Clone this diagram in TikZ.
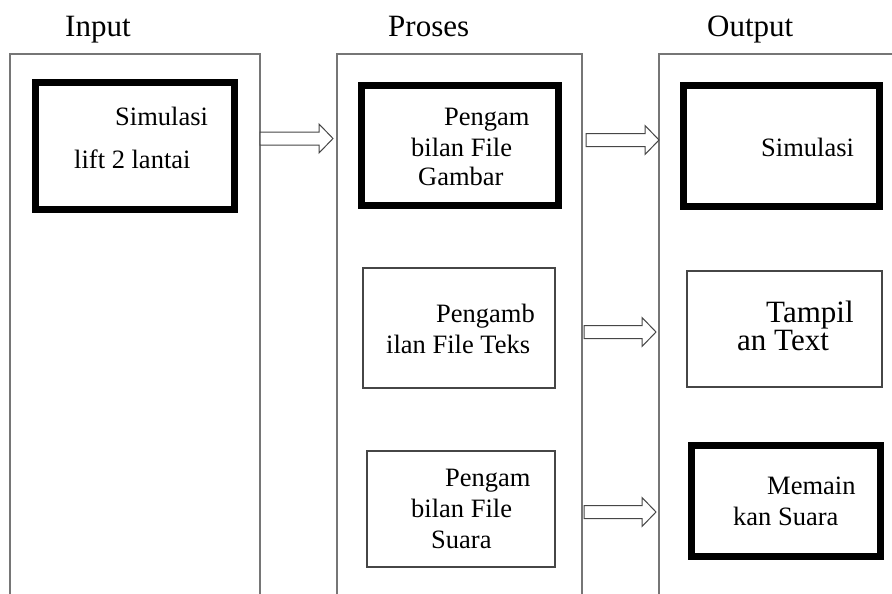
\documentclass[tikz,border=0pt]{standalone}
\usepackage{fontspec}
\setmainfont{Liberation Serif}
\usepackage{tikz}
\usetikzlibrary{calc}
\definecolor{colgray}{RGB}{118,118,118}
\definecolor{boxgray}{RGB}{70,70,70}
\tikzset{
  column/.style={draw=colgray, line width=1.4pt},
  thickbox/.style={draw=black, line width=7pt, inner sep=0pt},
  thinbox/.style={draw=boxgray, line width=1.3pt, inner sep=0pt},
  arrowline/.style={draw=boxgray, line width=1pt, fill=white, line join=miter},
  boxtext/.style={font=\fontsize{26.5}{31}\selectfont, align=left, inner sep=0pt, anchor=base west},
  heading/.style={font=\fontsize{31}{36}\selectfont, inner sep=0pt, anchor=base west}
}
\newcommand{\blockarrow}[2]{\draw[arrowline] let \p1 = (#1), \p2 = (#2) in (\x1,\y1+6.5pt) -- (\x2-14pt,\y1+6.5pt) -- (\x2-14pt,\y1+14.5pt) -- (\x2,\y1) -- (\x2-14pt,\y1-14.5pt) -- (\x2-14pt,\y1-6.5pt) -- (\x1,\y1-6.5pt) -- cycle}

\begin{document}
\begin{tikzpicture}[x=1pt, y=-1pt]
\useasboundingbox (0,0) rectangle (892,594);

% columns
\draw[column] (10,594) |- (260,54) -- (260,594);
\draw[column] (337,594) |- (582,54) -- (582,594);
\draw[column] (659,594) |- (892,54);

\node[heading] (tin) at (65,37) {Input};
\node[heading] (tpro) at (388,37) {Proses};
\node[heading] (tout) at (707,37) {Output};

% input
\node[thickbox, minimum width=199pt, minimum height=127pt] (in1) at (135,146) {};
\node[boxtext] (in1t) at (74,168) {\hspace*{41pt}Simulasi\\[12pt]lift 2 lantai};

% proses
\node[thickbox, minimum width=197pt, minimum height=120pt] (p1) at (460,145.5) {};
\node[boxtext] (p1t) at (411,185) {\hspace*{33pt}Pengam\\bilan File\\[-2pt]\hspace*{7pt}Gambar};
\node[thinbox, minimum width=192pt, minimum height=120pt] (p2) at (459,328) {};
\node[boxtext] (p2t) at (386,353) {\hspace*{50pt}Pengamb\\ilan File Teks};
\node[thinbox, minimum width=188pt, minimum height=116pt] (p3) at (461,509) {};
\node[boxtext] (p3t) at (411,548) {\hspace*{34pt}Pengam\\bilan File\\\hspace*{20pt}Suara};

% output
\node[thickbox, minimum width=196pt, minimum height=121pt] (o1) at (781.5,146) {};
\node[boxtext] (o1t) at (761,156) {Simulasi};
\node[thinbox, minimum width=195pt, minimum height=116pt] (o2) at (784.5,329) {};
\node[boxtext, font=\fontsize{31}{28}\selectfont] (o2t) at (737,350) {\hspace*{29pt}Tampil\\an Text};
\node[thickbox, minimum width=189pt, minimum height=111pt] (o3) at (786,501) {};
\node[boxtext] (o3t) at (733,525) {\hspace*{34pt}Memain\\kan Suara};

% arrows
\coordinate (a1s) at (260,138.5);
\coordinate (a1e) at (333,138.5);
\coordinate (a2s) at (586,140);
\coordinate (a2e) at (659,140);
\coordinate (a3s) at (584,332);
\coordinate (a3e) at (656,332);
\coordinate (a4s) at (584,512);
\coordinate (a4e) at (656,512);
\blockarrow{a1s}{a1e};
\blockarrow{a2s}{a2e};
\blockarrow{a3s}{a3e};
\blockarrow{a4s}{a4e};

\end{tikzpicture}
\end{document}
